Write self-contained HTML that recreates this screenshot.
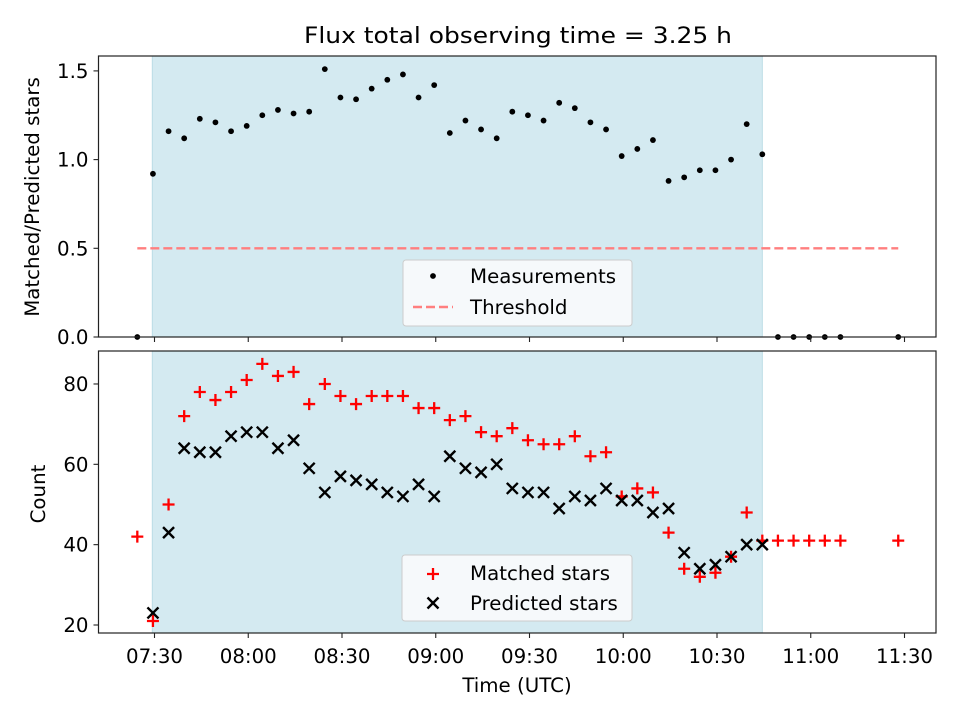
<!DOCTYPE html>
<html><head><meta charset="utf-8"><style>
body{margin:0;background:#fff}
svg text{font-family:"DejaVu Sans","Liberation Sans",sans-serif;fill:#000}
</style></head><body>
<svg id="c" width="960" height="720" xmlns="http://www.w3.org/2000/svg"></svg>
<script>
const times=[-5.5,-0.5,4.5,9.5,14.5,19.5,24.5,29.5,34.5,39.5,44.5,49.5,54.5,59.5,64.5,69.5,74.5,79.5,84.5,89.5,94.5,99.5,104.5,109.5,114.5,119.5,124.5,129.5,134.5,139.5,144.5,149.5,154.5,159.5,164.5,169.5,174.5,179.5,184.5,189.5,194.5,199.5,204.5,209.5,214.5,219.5,238];
const ratio=[0,0.92,1.16,1.12,1.23,1.21,1.16,1.19,1.25,1.28,1.26,1.27,1.51,1.35,1.34,1.40,1.45,1.48,1.35,1.42,1.15,1.22,1.17,1.12,1.27,1.25,1.22,1.32,1.29,1.21,1.17,1.02,1.06,1.11,0.88,0.90,0.94,0.94,1.00,1.20,1.03,0,0,0,0,0,0];
const matched=[42,21,50,72,78,76,78,81,85,82,83,75,80,77,75,77,77,77,74,74,71,72,68,67,69,66,65,65,67,62,63,52,54,53,43,34,32,33,37,48,41,41,41,41,41,41,41];
const predicted=[null,23,43,64,63,63,67,68,68,64,66,59,53,57,56,55,53,52,55,52,62,59,58,60,54,53,53,49,52,51,54,51,51,48,49,38,34,35,37,40,40,null,null,null,null,null,null];
const xTickLabels=["07:30","08:00","08:30","09:00","09:30","10:00","10:30","11:00","11:30"];
const xTickMins=[0,30,60,90,120,150,180,210,240];
const topTicks=[0,0.5,1.0,1.5];
const botTicks=[20,40,60,80];
const threshold=[0.5];
const shadeRange=[-0.7,194.5];

const NS="http://www.w3.org/2000/svg",svg=document.getElementById('c');
function el(t,a,p){const e=document.createElementNS(NS,t);for(const k in a)e.setAttribute(k,a[k]);(p||svg).appendChild(e);return e;}
const L=98.5,R=936,FS='19.8';
const X=t=>154.5+3.125*t;
const Yt=v=>337-v*177.4;
const Yb=v=>625-(v-20)*4.017;
const T1=56,B1=337,T2=351,B2=633;

function axes(top,bot,name){
  const g=el('g',{});
  const s=el('rect',{x:X(shadeRange[0]),y:top,width:X(shadeRange[1])-X(shadeRange[0]),height:bot-top,fill:'#d4eaf1',stroke:'#bcdde6','stroke-width':1},g);
  
  return g;
}
function frame(top,bot,g){el('rect',{x:L,y:top,width:R-L,height:bot-top,fill:'none',stroke:'#222','stroke-width':1.2},g);}
function xticks(bot,g,labels){
  xTickMins.forEach((m,i)=>{const x=X(m);el('line',{x1:x,x2:x,y1:bot,y2:bot+5,stroke:'#222','stroke-width':1.1},g);
    if(labels){const t=el('text',{x:x,y:bot+30,'text-anchor':'middle','font-size':FS},g);t.textContent=xTickLabels[i];
    }});
}
// top
const g1=axes(T1,B1,'ratio-panel');
const th=el('line',{x1:X(times[0]),x2:X(238),y1:Yt(threshold[0]),y2:Yt(threshold[0]),stroke:'#ff7f7f','stroke-width':2.4,'stroke-dasharray':'9,4'},g1);

times.forEach((t,i)=>{const c=el('circle',{cx:X(t),cy:Yt(ratio[i]),r:2.9,fill:'#000'},g1);
  });
topTicks.forEach(v=>{const y=Yt(v);el('line',{x1:L-5,x2:L,y1:y,y2:y,stroke:'#222','stroke-width':1.1},g1);
  const t=el('text',{x:L-10,y:y+7,'text-anchor':'end','font-size':FS},g1);t.textContent=v.toFixed(1);
  });
xticks(B1,g1,false);frame(T1,B1,g1);
// legend top
const lg1=el('g',{});
el('rect',{x:403,y:260,width:229,height:66,rx:3,fill:'#f6f9fb',stroke:'#ccc','stroke-width':1},lg1);
el('circle',{cx:433,cy:276,r:2.9,fill:'#000'},lg1);
el('line',{x1:413,x2:453,y1:307,y2:307,stroke:'#ff7f7f','stroke-width':2.4,'stroke-dasharray':'9,4'},lg1);
let t=el('text',{x:470,y:283,'font-size':FS},lg1);t.textContent='Measurements';
t=el('text',{x:470,y:314,'font-size':FS},lg1);t.textContent='Threshold';
// bottom
const g2=axes(T2,B2,'count-panel');
times.forEach((tt,i)=>{const x=X(tt),y=Yb(matched[i]);const p=el('path',{d:`M${x-6},${y}H${x+6}M${x},${y-6}V${y+6}`,stroke:'#f00','stroke-width':2.3},g2);
  });
times.forEach((tt,i)=>{if(predicted[i]==null)return;const x=X(tt),y=Yb(predicted[i]);const p=el('path',{d:`M${x-5.5},${y-5.5}L${x+5.5},${y+5.5}M${x-5.5},${y+5.5}L${x+5.5},${y-5.5}`,stroke:'#000','stroke-width':2.4},g2);
  });
botTicks.forEach(v=>{const y=Yb(v);el('line',{x1:L-5,x2:L,y1:y,y2:y,stroke:'#222','stroke-width':1.1},g2);
  const t=el('text',{x:L-10,y:y+7,'text-anchor':'end','font-size':FS},g2);t.textContent=v;
  });
xticks(B2,g2,true);frame(T2,B2,g2);
const lg2=el('g',{});
el('rect',{x:402,y:555,width:230,height:66,rx:3,fill:'#f6f9fb',stroke:'#ccc','stroke-width':1},lg2);
el('path',{d:'M427,574H439M433,568V580',stroke:'#f00','stroke-width':2.3},lg2);
el('path',{d:'M427.5,597.5L438.5,608.5M427.5,608.5L438.5,597.5',stroke:'#000','stroke-width':2.4},lg2);
t=el('text',{x:470,y:580,'font-size':FS},lg2);t.textContent='Matched stars';
t=el('text',{x:470,y:610,'font-size':FS},lg2);t.textContent='Predicted stars';
// titles
t=el('text',{x:518,y:43,'text-anchor':'middle','font-size':'22',textLength:'428',lengthAdjust:'spacingAndGlyphs'});t.textContent='Flux total observing time = 3.25 h';

t=el('text',{x:517,y:692,'text-anchor':'middle','font-size':FS});t.textContent='Time (UTC)';

t=el('text',{x:0,y:0,'text-anchor':'middle','font-size':FS,transform:'translate(39,197) rotate(-90)'});t.textContent='Matched/Predicted stars';

t=el('text',{x:0,y:0,'text-anchor':'middle','font-size':FS,transform:'translate(45,494) rotate(-90)'});t.textContent='Count';

</script>
</body></html>
